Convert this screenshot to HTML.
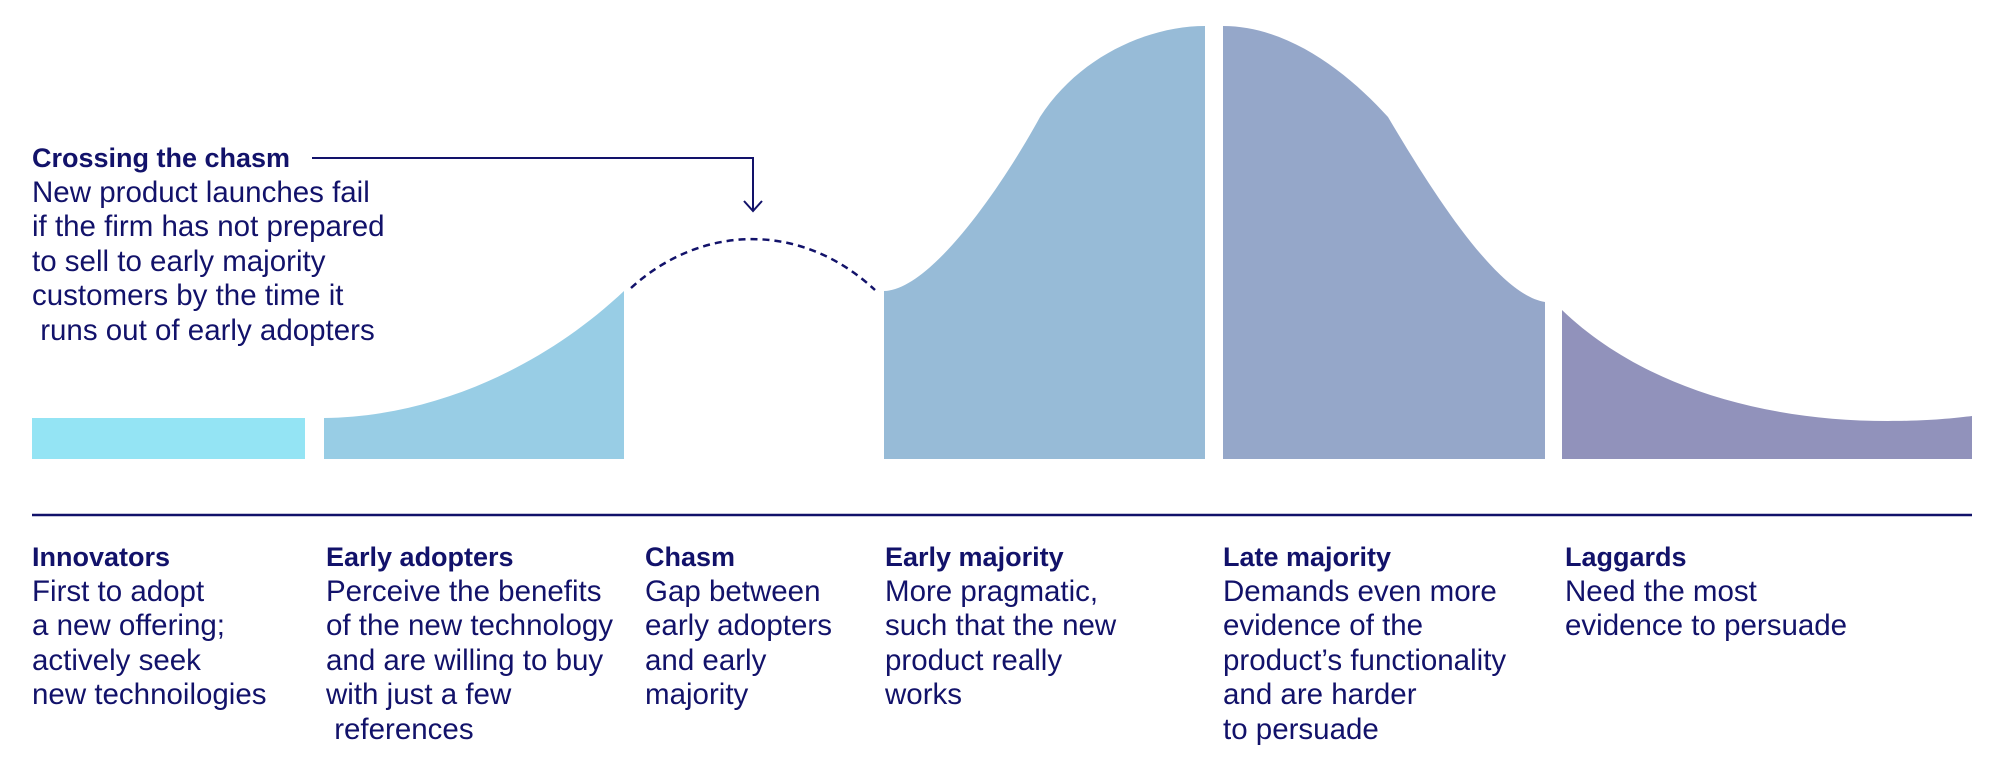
<!DOCTYPE html>
<html><head><meta charset="utf-8"><style>
body{margin:0;width:2000px;height:760px;background:#fff;overflow:hidden;font-family:"Liberation Sans",sans-serif;color:#12126a}
svg{position:absolute;left:0;top:0}
.t{position:absolute;font-size:29.5px;line-height:34.5px;white-space:pre}
.t b{display:block;font-weight:bold;font-size:27px}
</style></head><body>
<svg width="2000" height="760">
<rect x="32" y="418" width="273" height="41" fill="#94e4f4"/>
<path d="M324 418 C430 417 540 370 624 291 L624 459 L324 459 Z" fill="#98cde5"/>
<path d="M884 291 C930 290 1000 190 1040 117 C1080 55 1150 26 1205 26 L1205 459 L884 459 Z" fill="#97bbd7"/>
<path d="M1223 26 C1290 26 1350 75 1388 117 C1440 205 1500 295 1545 302 L1545 459 L1223 459 Z" fill="#95a7c9"/>
<path d="M1562 310 C1640 385 1760 421 1888 421 C1930 421 1955 418 1972 416 L1972 459 L1562 459 Z" fill="#9192bb"/>
<path d="M631 288 C700 225 800 220 875 290" fill="none" stroke="#12126a" stroke-width="2.5" stroke-dasharray="7,5"/>
<path d="M312 158 L753 158 L753 210" fill="none" stroke="#12126a" stroke-width="2"/>
<path d="M744 201 L753 211 L762 201" fill="none" stroke="#12126a" stroke-width="2"/>
<line x1="32" y1="515" x2="1972" y2="515" stroke="#12126a" stroke-width="2.5"/>
</svg>
<div class="t" style="left:32px;top:141px"><b>Crossing the chasm</b>New product launches fail
if the firm has not prepared
to sell to early majority
customers by the time it
 runs out of early adopters</div>
<div class="t" style="left:32px;top:540px"><b>Innovators</b>First to adopt
a new offering;
actively seek
new technoilogies</div>
<div class="t" style="left:326px;top:540px"><b>Early adopters</b>Perceive the benefits
of the new technology
and are willing to buy
with just a few
 references</div>
<div class="t" style="left:645px;top:540px"><b>Chasm</b>Gap between
early adopters
and early
majority</div>
<div class="t" style="left:885px;top:540px"><b>Early majority</b>More pragmatic,
such that the new
product really
works</div>
<div class="t" style="left:1223px;top:540px"><b>Late majority</b>Demands even more
evidence of the
product’s functionality
and are harder
to persuade</div>
<div class="t" style="left:1565px;top:540px"><b>Laggards</b>Need the most
evidence to persuade</div>
</body></html>
